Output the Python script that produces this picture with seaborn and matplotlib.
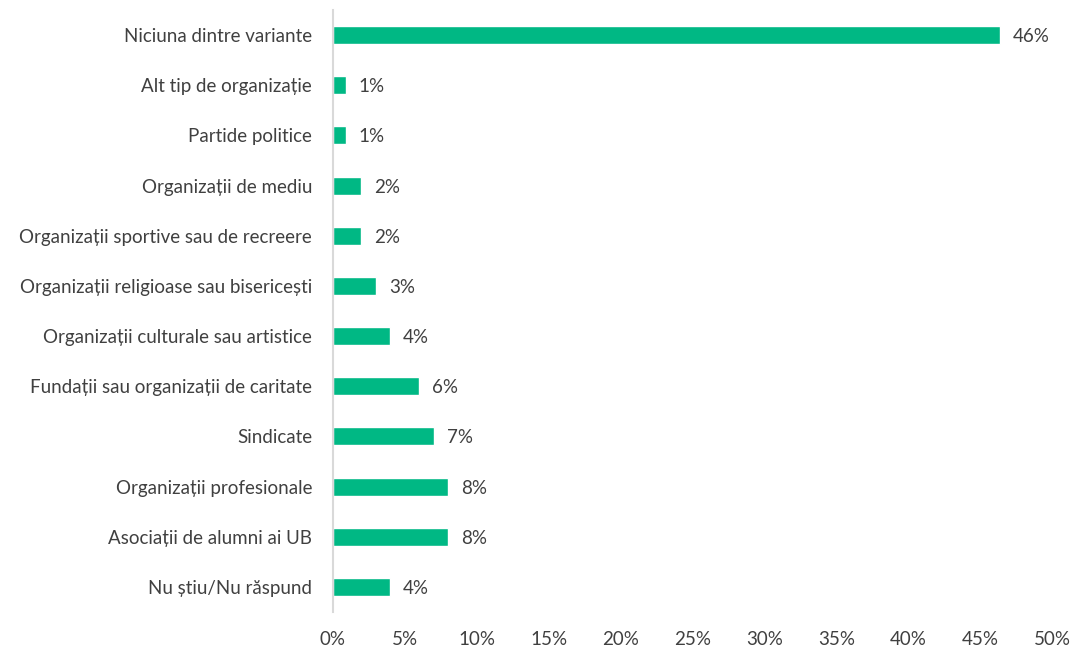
import matplotlib
matplotlib.use("Agg")
import matplotlib.pyplot as plt
import seaborn as sns
import pandas as pd

# date
categories = [
    "Niciuna dintre variante",
    "Alt tip de organizație",
    "Partide politice",
    "Organizații de mediu",
    "Organizații sportive sau de recreere",
    "Organizații religioase sau bisericești",
    "Organizații culturale sau artistice",
    "Fundații sau organizații de caritate",
    "Sindicate",
    "Organizații profesionale",
    "Asociații de alumni ai UB",
    "Nu știu/Nu răspund",
]
values = [46.4, 0.9, 0.9, 1.95, 1.95, 3.0, 3.95, 6.0, 7.0, 8.0, 8.0, 3.95]
x_ticks = [0, 5, 10, 15, 20, 25, 30, 35, 40, 45, 50]

df = pd.DataFrame({"Categorie": categories, "Procent": values})

sns.set_style("white")
plt.rcParams["font.family"] = ["Lato", "DejaVu Sans"]

fig = plt.figure(figsize=(10.83, 6.48), dpi=100)
ax = fig.add_axes([333 / 1083, 1 - 612 / 648, 719 / 1083, 602 / 648])

sns.barplot(data=df, x="Procent", y="Categorie", color="#00B884",
            width=0.36, orient="h", ax=ax, saturation=1)

# etichete pe bare
for i, v in enumerate(values):
    ax.text(v + 0.9, i, f"{round(v)}%", va="center_baseline", ha="left",
            fontsize=13.5, color="#404040")

ax.set_xlim(0, 50)
ax.set_ylim(11.5, -0.5)
ax.set_xticks(x_ticks)
ax.set_xticklabels([f"{t}%" for t in x_ticks])
ax.set_xlabel("")
ax.set_ylabel("")
ax.tick_params(axis="both", length=0, labelsize=13.5, labelcolor="#404040")
ax.tick_params(axis="y", pad=15)
ax.tick_params(axis="x", pad=14)

for s in ["top", "right", "bottom"]:
    ax.spines[s].set_visible(False)
ax.spines["left"].set_color("#D9D9D9")
ax.spines["left"].set_linewidth(1.5)

fig.savefig("out.png", dpi=100)
